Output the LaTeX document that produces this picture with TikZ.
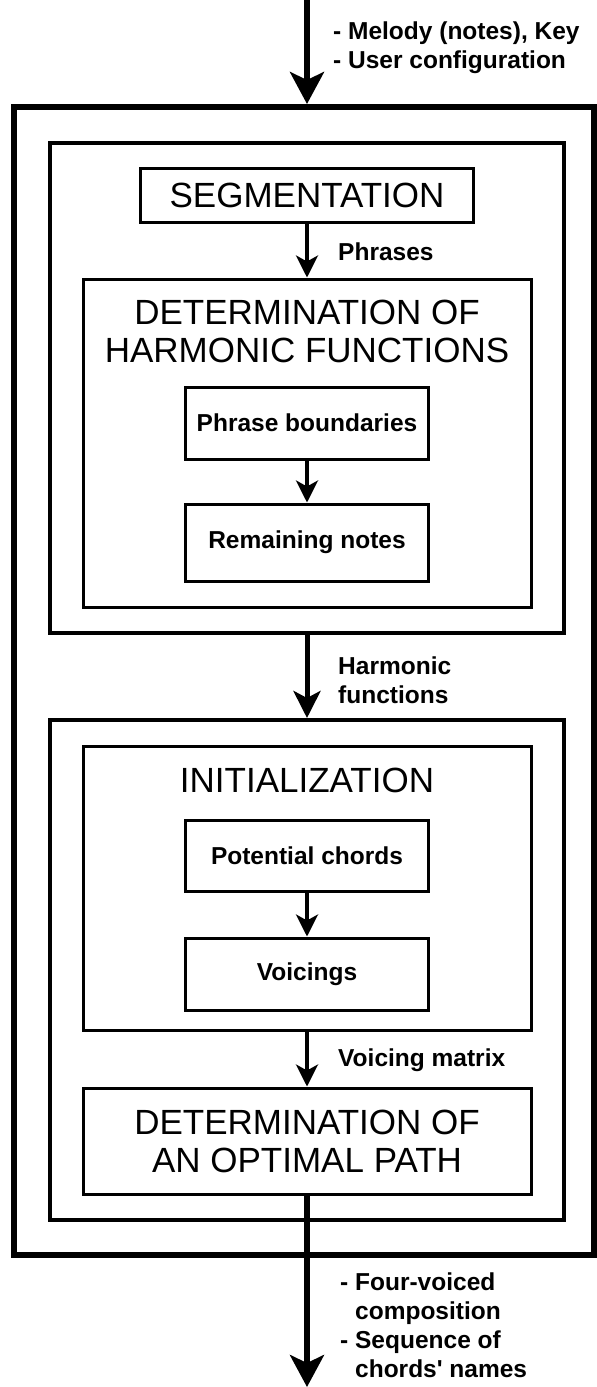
\documentclass[tikz,border=0pt]{standalone}
\usepackage{fontspec}
\setmainfont{Liberation Sans}
\usetikzlibrary{arrows.meta,positioning}
\newcommand{\titlefont}{\fontsize{35}{38}\selectfont}
\newcommand{\labelfont}{\fontsize{24.5}{29}\selectfont\bfseries}
\tikzstyle{system} = [rectangle, draw, line width=6pt, inner sep=0pt]
\tikzstyle{stagebox} = [rectangle, draw, line width=4pt, inner sep=0pt,
    minimum width=514pt]
\tikzstyle{block} = [rectangle, draw, line width=3pt, inner sep=0pt]
\tikzstyle{boxtitle} = [font=\titlefont, align=center, inner sep=0pt]
\tikzstyle{flowlabel} = [font=\labelfont, align=left, anchor=west, inner sep=0pt]
\tikzstyle{line} = [draw, line width=3.5pt, -{Stealth[length=22pt,width=22pt,inset=6pt]}]
\tikzstyle{midline} = [draw, line width=5pt, -{Stealth[length=27pt,width=27pt,inset=7pt]}]
\tikzstyle{bigline} = [draw, line width=5.5pt, -{Stealth[length=32pt,width=34pt,inset=8pt]}]

\begin{document}
\begin{tikzpicture}[x=1pt, y=-1pt]
  \useasboundingbox (0,0) rectangle (597,1387);
  \node [system, minimum width=580pt, minimum height=1148pt] (sys) at (304,681) {};
  % harmonisation stage
  \node [stagebox, minimum height=490pt] (stagea) at (307,388) {};
  \node [block, minimum width=333pt, minimum height=54pt, font=\titlefont] (seg) at (307,195) {SEGMENTATION};
  \node [block, minimum width=448pt, minimum height=328pt] (dhf) at (307,443) {};
  \node [boxtitle] (dhftitle) at (307,331) {DETERMINATION OF\\HARMONIC FUNCTIONS};
  \node [block, minimum width=243pt, minimum height=72pt, font=\labelfont] (bound) at (307,423) {Phrase boundaries};
  \node [block, below=42pt of bound, minimum width=243pt, minimum height=77pt, font=\labelfont] (rest) {Remaining notes};
  \path [line] (seg) -- (dhf);
  \path [line] (bound) -- (rest);
  % voicing stage
  \node [stagebox, minimum height=500pt] (stageb) at (307,970) {};
  \node [block, minimum width=448pt, minimum height=284pt] (init) at (307,888) {};
  \node [boxtitle] (inittitle) at (307,780) {INITIALIZATION};
  \node [block, minimum width=243pt, minimum height=71pt, font=\labelfont] (chords) at (307,855.5) {Potential chords};
  \node [block, below=44pt of chords, minimum width=243pt, minimum height=72pt, font=\labelfont] (voicings) {Voicings};
  \node [block, minimum width=448pt, minimum height=106pt] (dop) at (307,1141) {};
  \node [boxtitle] (doptitle) at (307,1141) {DETERMINATION OF\\AN OPTIMAL PATH};
  \path [line] (chords) -- (voicings);
  \path [line] (init) -- (dop);
  \path [midline] (stagea) -- (stageb);
  % input and output
  \coordinate (input) at (307,0);
  \coordinate (output) at (307,1387);
  \path [bigline] (input) -- (input |- sys.north);
  \path [bigline] (dop) -- (output);
  % labels
  \node [flowlabel] (inputs) at (333,47.5) {- Melody (notes), Key\\- User configuration};
  \node [flowlabel] (phrases) at (338,252) {Phrases};
  \node [flowlabel] (functions) at (338,680) {Harmonic\\functions};
  \node [flowlabel] (matrix) at (338,1060) {Voicing matrix};
  \node [flowlabel] (outputs) at (340,1325.5) {- Four-voiced\\\phantom{-\ }composition\\- Sequence of\\\phantom{-\ }chords\textquotesingle{} names};
\end{tikzpicture}
\end{document}
